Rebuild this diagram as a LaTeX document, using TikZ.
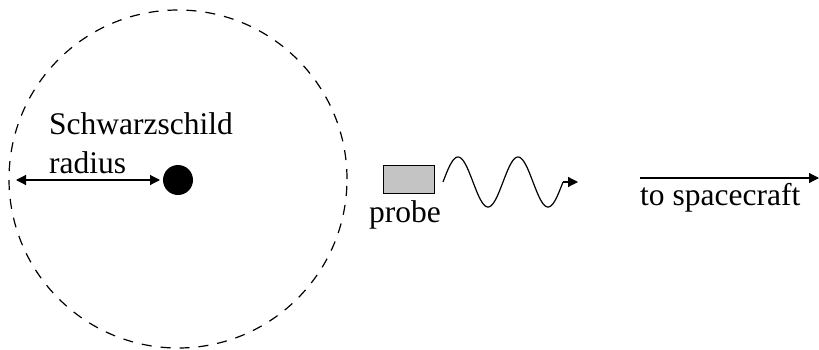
\documentclass[tikz,border=0pt]{standalone}
\usepackage{fontspec}
\setmainfont{Liberation Serif}
\usetikzlibrary{arrows.meta}
\definecolor{probegray}{RGB}{196,196,196}
\begin{document}
\begin{tikzpicture}[x=1pt,y=-1pt,
  every node/.style={font=\fontsize{31.5}{38}\selectfont},
  lbl/.style={anchor=base west,inner sep=0pt},
  conn/.style={line width=1.2pt},
  tip/.style={-{Triangle[length=10pt,width=10pt]}},
  dtip/.style={{Triangle[length=10pt,width=10pt]}-{Triangle[length=10pt,width=10pt]}}]
\useasboundingbox (0,0) rectangle (819,349);
% event horizon
\node (hz) [circle,draw,line width=1.2pt,dash pattern=on 10pt off 9pt,minimum size=338pt,inner sep=0pt] at (178,179) {};
% black hole
\node (bh) [circle,fill=black,minimum size=30pt,inner sep=0pt] at (178,180) {};
\coordinate (rl) at (16,180);
\coordinate (rr) at (160,180);
\draw[conn,dtip] (rl) -- (rr);
\node (t1) [lbl] at (49,134) {Schwarzschild};
\node (t2) [lbl] at (49,173) {radius};
% probe
\node (pr) [draw,fill=probegray,line width=1pt,minimum width=51pt,minimum height=28pt,inner sep=0pt] at (408.5,179) {};
\node (pl) [lbl] at (369,222) {probe};
% wave
\coordinate (ws) at (443,182);
\coordinate (we) at (563,182);
\coordinate (wt) at (578,182);
\draw[conn] plot[domain=0:120,samples=121] ({443+\x},{182-25*sin(6*\x)});
\draw[conn,tip] (we) -- (wt);
% to spacecraft
\coordinate (sa) at (640,178);
\coordinate (sb) at (819,178);
\draw[conn,tip] (sa) -- (sb);
\node (sl) [lbl] at (640,205) {to spacecraft};
\end{tikzpicture}
\end{document}
